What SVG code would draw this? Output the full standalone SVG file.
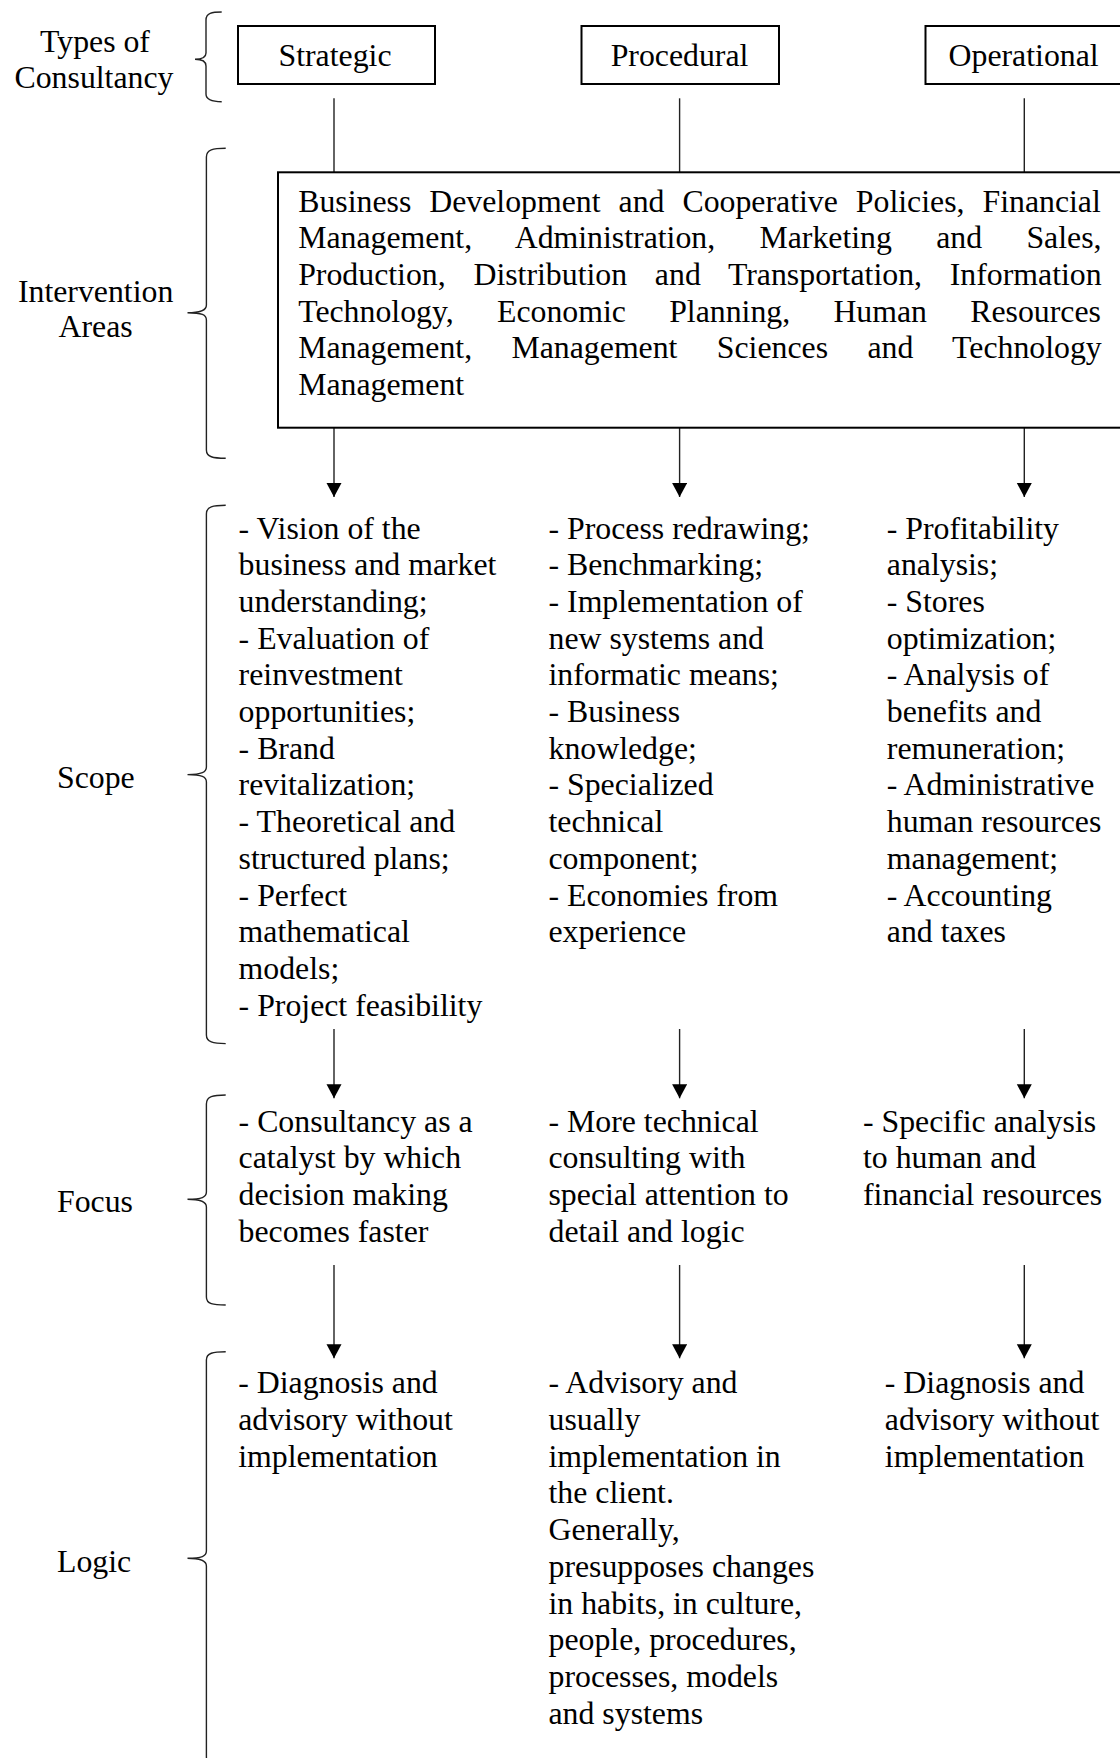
<svg xmlns="http://www.w3.org/2000/svg" width="1120" height="1758" viewBox="0 0 1120 1758">
<defs>
<style>
text{font-family:"Liberation Serif","Times New Roman",serif;font-size:31.8px;fill:#000}
.box{fill:#fff;stroke:#000;stroke-width:2}
.brace{fill:none;stroke:#222;stroke-width:1.4}
.conn{fill:none;stroke:#222;stroke-width:1.4}
.mid{text-anchor:middle}
</style>
<marker id="ah" markerUnits="userSpaceOnUse" markerWidth="16" markerHeight="16" refX="14" refY="7.5" orient="auto">
<path d="M0,0 L14,7.5 L0,15 z" fill="#000"/>
</marker>
</defs>
<rect width="1120" height="1758" fill="#fff"/>

<g id="labels">
<g id="label-types">
<text class="mid" x="95" y="51.7">Types of</text>
<text class="mid" x="94" y="88.3">Consultancy</text>
<path class="brace" d="M221.7,12 C212,12 206,13 206,20 L206,53 C206,57 203,59.3 195,59.3 C203,59.3 206,61.5 206,66 L206,94 C206,100 212,101.7 221.7,101.7"/>
</g>
<g id="label-intervention">
<text class="mid" x="95.6" y="301.7">Intervention</text>
<text class="mid" x="95.6" y="336.7">Areas</text>
<path class="brace" d="M225.7,148.3 C213,148.3 206.4,149.5 206.4,157 L206.4,305 C206.4,310 202,312.7 187.5,312.7 C202,312.7 206.4,315 206.4,320 L206.4,450 C206.4,457 213,458.3 225.7,458.3"/>
</g>
<g id="label-scope">
<text x="57" y="788.4">Scope</text>
<path class="brace" d="M225.7,505.2 C213,505.2 206.4,506.5 206.4,514 L206.4,767 C206.4,772 202,774.6 187.5,774.6 C202,774.6 206.4,777 206.4,782 L206.4,1035 C206.4,1042 213,1043.6 225.7,1043.6"/>
</g>
<g id="label-focus">
<text x="57" y="1211.7">Focus</text>
<path class="brace" d="M225.7,1095 C213,1095 206.4,1096.3 206.4,1104 L206.4,1192 C206.4,1197 202,1199.3 187.5,1199.3 C202,1199.3 206.4,1202 206.4,1207 L206.4,1297 C206.4,1304 213,1305 225.7,1305"/>
</g>
<g id="label-logic">
<text x="57" y="1571.7">Logic</text>
<path class="brace" d="M225.7,1351.7 C213,1351.7 206.4,1353 206.4,1360 L206.4,1551 C206.4,1556 202,1558.3 187.5,1558.3 C202,1558.3 206.4,1561 206.4,1566 L206.4,1757 C206.4,1764 213,1765 225.7,1765"/>
</g>
</g>

<g id="connectors">
<line class="conn" x1="334" y1="98.3" x2="334" y2="172.3"/>
<line class="conn" x1="679.6" y1="98.3" x2="679.6" y2="172.3"/>
<line class="conn" x1="1024.3" y1="98.3" x2="1024.3" y2="172.3"/>
<line class="conn" x1="334" y1="427.7" x2="334" y2="497" marker-end="url(#ah)"/>
<line class="conn" x1="679.6" y1="427.7" x2="679.6" y2="497" marker-end="url(#ah)"/>
<line class="conn" x1="1024.3" y1="427.7" x2="1024.3" y2="497" marker-end="url(#ah)"/>
<line class="conn" x1="334" y1="1029" x2="334" y2="1098.3" marker-end="url(#ah)"/>
<line class="conn" x1="679.6" y1="1029" x2="679.6" y2="1098.3" marker-end="url(#ah)"/>
<line class="conn" x1="1024.3" y1="1029" x2="1024.3" y2="1098.3" marker-end="url(#ah)"/>
<line class="conn" x1="334" y1="1265" x2="334" y2="1358.3" marker-end="url(#ah)"/>
<line class="conn" x1="679.6" y1="1265" x2="679.6" y2="1358.3" marker-end="url(#ah)"/>
<line class="conn" x1="1024.3" y1="1265" x2="1024.3" y2="1358.3" marker-end="url(#ah)"/>
</g>

<g id="node-strategic">
<rect class="box" x="238" y="26" width="197" height="58"/>
<text class="mid" x="335" y="66">Strategic</text>
</g>
<g id="node-procedural">
<rect class="box" x="581.5" y="26" width="197.5" height="58"/>
<text class="mid" x="679.5" y="66">Procedural</text>
</g>
<g id="node-operational">
<rect class="box" x="925.5" y="26" width="200" height="58"/>
<text class="mid" x="1023.6" y="66">Operational</text>
</g>

<g id="node-intervention">
<rect class="box" x="278" y="172.3" width="850" height="255.4"/>
<text x="298.2" y="211.7" word-spacing="10.05">Business Development and Cooperative Policies, Financial</text>
<text x="298.2" y="248.3" word-spacing="36.35">Management, Administration, Marketing and Sales,</text>
<text x="298.2" y="285" word-spacing="19.8">Production, Distribution and Transportation, Information</text>
<text x="298.2" y="321.7" word-spacing="35.3">Technology, Economic Planning, Human Resources</text>
<text x="298.2" y="358.3" word-spacing="31.4">Management, Management Sciences and Technology</text>
<text x="298.2" y="395">Management</text>
</g>

<g id="node-scope-strategic">
<text x="238.6" y="538.5"><tspan x="238.6">- Vision of the</tspan><tspan x="238.6" dy="36.7">business and market</tspan><tspan x="238.6" dy="36.7">understanding;</tspan><tspan x="238.6" dy="36.7">- Evaluation of</tspan><tspan x="238.6" dy="36.7">reinvestment</tspan><tspan x="238.6" dy="36.7">opportunities;</tspan><tspan x="238.6" dy="36.7">- Brand</tspan><tspan x="238.6" dy="36.7">revitalization;</tspan><tspan x="238.6" dy="36.7">- Theoretical and</tspan><tspan x="238.6" dy="36.7">structured plans;</tspan><tspan x="238.6" dy="36.7">- Perfect</tspan><tspan x="238.6" dy="36.7">mathematical</tspan><tspan x="238.6" dy="36.7">models;</tspan><tspan x="238.6" dy="36.7">- Project feasibility</tspan></text>
</g>
<g id="node-scope-procedural">
<text x="548.5" y="538.5"><tspan x="548.5">- Process redrawing;</tspan><tspan x="548.5" dy="36.7">- Benchmarking;</tspan><tspan x="548.5" dy="36.7">- Implementation of</tspan><tspan x="548.5" dy="36.7">new systems and</tspan><tspan x="548.5" dy="36.7">informatic means;</tspan><tspan x="548.5" dy="36.7">- Business</tspan><tspan x="548.5" dy="36.7">knowledge;</tspan><tspan x="548.5" dy="36.7">- Specialized</tspan><tspan x="548.5" dy="36.7">technical</tspan><tspan x="548.5" dy="36.7">component;</tspan><tspan x="548.5" dy="36.7">- Economies from</tspan><tspan x="548.5" dy="36.7">experience</tspan></text>
</g>
<g id="node-scope-operational">
<text x="886.8" y="538.5"><tspan x="886.8">- Profitability</tspan><tspan x="886.8" dy="36.7">analysis;</tspan><tspan x="886.8" dy="36.7">- Stores</tspan><tspan x="886.8" dy="36.7">optimization;</tspan><tspan x="886.8" dy="36.7">- Analysis of</tspan><tspan x="886.8" dy="36.7">benefits and</tspan><tspan x="886.8" dy="36.7">remuneration;</tspan><tspan x="886.8" dy="36.7">- Administrative</tspan><tspan x="886.8" dy="36.7">human resources</tspan><tspan x="886.8" dy="36.7">management;</tspan><tspan x="886.8" dy="36.7">- Accounting</tspan><tspan x="886.8" dy="36.7">and taxes</tspan></text>
</g>

<g id="node-focus-strategic">
<text x="238.6" y="1131.7"><tspan x="238.6">- Consultancy as a</tspan><tspan x="238.6" dy="36.7">catalyst by which</tspan><tspan x="238.6" dy="36.7">decision making</tspan><tspan x="238.6" dy="36.7">becomes faster</tspan></text>
</g>
<g id="node-focus-procedural">
<text x="548.5" y="1131.7"><tspan x="548.5">- More technical</tspan><tspan x="548.5" dy="36.7">consulting with</tspan><tspan x="548.5" dy="36.7">special attention to</tspan><tspan x="548.5" dy="36.7">detail and logic</tspan></text>
</g>
<g id="node-focus-operational">
<text x="863" y="1131.7"><tspan x="863">- Specific analysis</tspan><tspan x="863" dy="36.7">to human and</tspan><tspan x="863" dy="36.7">financial resources</tspan></text>
</g>

<g id="node-logic-strategic">
<text x="238.2" y="1393.3"><tspan x="238.2">- Diagnosis and</tspan><tspan x="238.2" dy="36.7">advisory without</tspan><tspan x="238.2" dy="36.7">implementation</tspan></text>
</g>
<g id="node-logic-procedural">
<text x="548.5" y="1393.3"><tspan x="548.5">- Advisory and</tspan><tspan x="548.5" dy="36.7">usually</tspan><tspan x="548.5" dy="36.7">implementation in</tspan><tspan x="548.5" dy="36.7">the client.</tspan><tspan x="548.5" dy="36.7">Generally,</tspan><tspan x="548.5" dy="36.7">presupposes changes</tspan><tspan x="548.5" dy="36.7">in habits, in culture,</tspan><tspan x="548.5" dy="36.7">people, procedures,</tspan><tspan x="548.5" dy="36.7">processes, models</tspan><tspan x="548.5" dy="36.7">and systems</tspan></text>
</g>
<g id="node-logic-operational">
<text x="884.8" y="1393.3"><tspan x="884.8">- Diagnosis and</tspan><tspan x="884.8" dy="36.7">advisory without</tspan><tspan x="884.8" dy="36.7">implementation</tspan></text>
</g>
</svg>
